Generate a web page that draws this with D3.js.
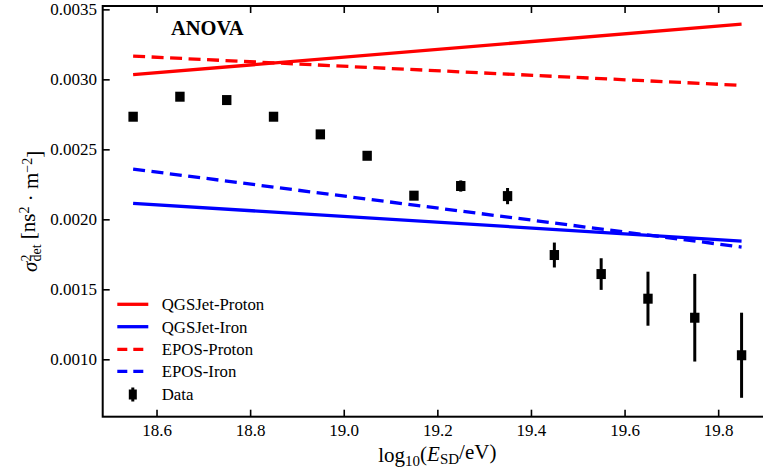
<!DOCTYPE html>
<html>
<head>
<meta charset="utf-8">
<script src="https://cdn.jsdelivr.net/npm/d3@7"></script>
<style>
  html, body { margin: 0; padding: 0; background: #fff; }
  svg { display: block; font-family: "Liberation Serif", "Times New Roman", serif; }
</style>
</head>
<body>
<svg id="chart" width="763" height="476"></svg>
<script>
// Energy bins (log10 E/eV) and measured detector variance with its uncertainty
const energies = [18.55, 18.65, 18.75, 18.85, 18.95, 19.05, 19.15, 19.25, 19.35, 19.45, 19.55, 19.65, 19.75, 19.85];
const dataValues = [0.002733, 0.002876, 0.002852, 0.002733, 0.002607, 0.002454, 0.002169, 0.002238, 0.002166, 0.001745, 0.001609, 0.001433, 0.001297, 0.001029];
const dataErrors = [0.00002, 0.00002, 0.00002, 0.00002, 0.00002, 0.00002, 0.00003, 0.00004, 0.000058, 0.000089, 0.000113, 0.000193, 0.000313, 0.000304];

// Model predictions: straight lines evaluated at the ends of the energy range
const modelEnergies = [18.55, 19.85];
const qgsjetProton = [0.003033, 0.003395];
const qgsjetIron = [0.002114, 0.001845];
const eposProton = [0.003166, 0.002957];
const eposIron = [0.002359, 0.001802];

const modelNames = ["QGSJet-Proton", "QGSJet-Iron", "EPOS-Proton", "EPOS-Iron"];
const modelColors = ["#ff0000", "#0000ff", "#ff0000", "#0000ff"];
const modelDashed = [false, false, true, true];
const modelValues = [qgsjetProton, qgsjetIron, eposProton, eposIron];

const xTicks = [18.6, 18.8, 19.0, 19.2, 19.4, 19.6, 19.8];
const yTicks = [0.0010, 0.0015, 0.0020, 0.0025, 0.0030, 0.0035];

const svg = d3.select("#chart");
const plotL = 102.7, plotR = 772, plotT = 6, plotB = 416.7;

const x = d3.scaleLinear().domain([18.485, 19.915]).range([plotL, plotR]);
const y = d3.scaleLinear().domain([0.00059, 0.003524]).range([plotB, plotT]);

const tickLen = 7;
const fontTick = 17;
const serif = '"Liberation Serif", "Times New Roman", serif';

// Frame
svg.append("rect")
  .attr("x", plotL).attr("y", plotT)
  .attr("width", plotR - plotL).attr("height", plotB - plotT)
  .attr("fill", "none").attr("stroke", "#000").attr("stroke-width", 2);

// Bottom axis: inward ticks with labels
const xAxisB = d3.axisBottom(x).tickValues(xTicks).tickSize(-tickLen).tickPadding(7)
  .tickFormat(d3.format(".1f"));
const gxb = svg.append("g").attr("transform", `translate(0,${plotB})`).call(xAxisB);
// Top axis: mirrored ticks, no labels
const xAxisT = d3.axisTop(x).tickValues(xTicks).tickSize(-tickLen).tickFormat("");
const gxt = svg.append("g").attr("transform", `translate(0,${plotT})`).call(xAxisT);
// Left axis
const yAxisL = d3.axisLeft(y).tickValues(yTicks).tickSize(-tickLen).tickPadding(4)
  .tickFormat(d3.format(".4f"));
const gyl = svg.append("g").attr("transform", `translate(${plotL},0)`).call(yAxisL);
// Right axis (mirrored ticks)
const yAxisR = d3.axisRight(y).tickValues(yTicks).tickSize(-tickLen).tickFormat("");
const gyr = svg.append("g").attr("transform", `translate(${plotR},0)`).call(yAxisR);

[gxb, gxt, gyl, gyr].forEach(g => {
  g.attr("font-family", null).attr("font-size", null);
  g.select(".domain").remove();
  g.selectAll(".tick line").attr("stroke", "#000").attr("stroke-width", 1.6);
  g.selectAll(".tick text")
    .attr("fill", "#000")
    .style("font-family", serif)
    .style("font-size", fontTick + "px");
});
gyl.selectAll(".tick text").attr("dx", "-0.1em");

// Model lines
const line = d3.line().x(d => x(d[0])).y(d => y(d[1]));
modelValues.forEach((vals, i) => {
  svg.append("path")
    .datum(modelEnergies.map((e, j) => [e, vals[j]]))
    .attr("d", line)
    .attr("fill", "none")
    .attr("stroke", modelColors[i])
    .attr("stroke-width", 3.3)
    .attr("stroke-dasharray", modelDashed[i] ? "12,6.5" : null);
});

// Data points with error bars
const pts = svg.append("g");
energies.forEach((e, i) => {
  const cx = x(e), cy = y(dataValues[i]);
  pts.append("line")
    .attr("x1", cx).attr("x2", cx)
    .attr("y1", y(dataValues[i] + dataErrors[i]))
    .attr("y2", y(dataValues[i] - dataErrors[i]))
    .attr("stroke", "#000").attr("stroke-width", 3);
  pts.append("rect")
    .attr("x", cx - 4.7).attr("y", cy - 5)
    .attr("width", 9.4).attr("height", 10)
    .attr("fill", "#000");
});

// Legend
const legX0 = 117.3, legX1 = 148.3, legTextX = 161.7;
const legRows = [304.3, 326.7, 349.3, 371.3];
const legFont = "16.8px";
const legend = svg.append("g");
modelNames.forEach((name, i) => {
  legend.append("line")
    .attr("x1", legX0).attr("x2", legX1)
    .attr("y1", legRows[i]).attr("y2", legRows[i])
    .attr("stroke", modelColors[i]).attr("stroke-width", 3.3)
    .attr("stroke-dasharray", modelDashed[i] ? "10,6" : null);
  legend.append("text")
    .attr("x", legTextX).attr("y", legRows[i])
    .attr("dy", "0.35em")
    .style("font-family", serif)
    .style("font-size", legFont)
    .text(name);
});
const dataRow = 394.5;
const legMid = (legX0 + legX1) / 2;
legend.append("line")
  .attr("x1", legMid).attr("x2", legMid)
  .attr("y1", dataRow - 7).attr("y2", dataRow + 7)
  .attr("stroke", "#000").attr("stroke-width", 3);
legend.append("rect")
  .attr("x", legMid - 4).attr("y", dataRow - 5)
  .attr("width", 8).attr("height", 10).attr("fill", "#000");
legend.append("text")
  .attr("x", legTextX).attr("y", dataRow)
  .attr("dy", "0.35em")
  .style("font-family", serif)
  .style("font-size", legFont)
  .text("Data");

// Panel title
svg.append("text")
  .attr("x", 171).attr("y", 35)
  .style("font-family", serif)
  .style("font-size", "20.5px").style("font-weight", "bold")
  .text("ANOVA");

// X axis title: log10(E_SD/eV)
const xt = svg.append("text")
  .attr("x", (plotL + plotR) / 2).attr("y", 462)
  .attr("text-anchor", "middle")
  .style("font-family", serif)
  .style("font-size", "21px");
xt.append("tspan").text("log");
xt.append("tspan").attr("dy", "0.25em").style("font-size", "15px").text("10");
xt.append("tspan").attr("dy", "-0.25em").text("(");
xt.append("tspan").style("font-style", "italic").text("E");
xt.append("tspan").attr("dy", "0.25em").style("font-size", "15px").text("SD");
xt.append("tspan").attr("dy", "-0.25em").text("/eV)");

// Y axis title: sigma^2_det [ns^2 · m^-2]
const yt = svg.append("text")
  .attr("transform", `translate(37,${(plotT + plotB) / 2}) rotate(-90)`)
  .attr("text-anchor", "middle")
  .style("font-family", serif)
  .style("font-size", "21px");
yt.append("tspan").style("font-style", "italic").text("σ");
yt.append("tspan").attr("dy", "-0.45em").style("font-size", "14px").text("2");
yt.append("tspan").attr("dx", "-0.5em").attr("dy", "0.75em").style("font-size", "14px").text("det");
yt.append("tspan").attr("dy", "-0.3em").text(" [ns");
yt.append("tspan").attr("dy", "-0.45em").style("font-size", "14px").text("2");
yt.append("tspan").attr("dy", "0.45em").text(" · m");
yt.append("tspan").attr("dy", "-0.45em").style("font-size", "14px").text("−2");
yt.append("tspan").attr("dy", "0.45em").text("]");
</script>
</body>
</html>
